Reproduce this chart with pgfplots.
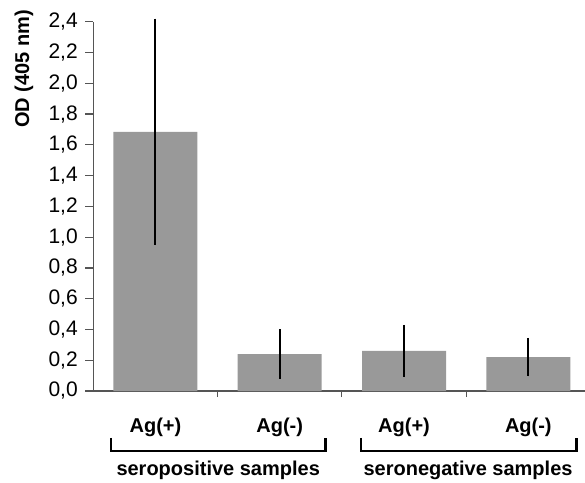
\documentclass[border=0pt]{standalone}
\usepackage{fontspec}
\setmainfont{Liberation Sans}
\usepackage{pgfplots}
\pgfplotsset{compat=1.18}
\definecolor{barfill}{HTML}{999999}
\definecolor{axisgray}{HTML}{555555}
\newcommand{\lblfont}{\fontsize{20}{24}\selectfont}
\newcommand{\numfont}{\fontsize{21}{25}\selectfont}

\begin{document}
\begin{tikzpicture}
\begin{axis}[
    at={(93.3pt,91pt)}, anchor=south west,
    scale only axis,
    width=491.7pt, height=369.3pt,
    xmin=-0.5, xmax=3.456,
    ymin=0, ymax=2.4,
    axis lines*=left,
    axis line style={draw=axisgray, line width=1.2pt},
    tick align=outside,
    ytick={0,0.2,...,2.41},
    major tick length=8pt,
    minor tick length=6pt,
    tick style={draw=axisgray, line width=1.2pt},
    major x tick style={draw=none},
    xtick={0,1,2,3},
    minor xtick={0.5,1.5,2.5},
    xticklabels={\textbf{Ag(+)},\textbf{Ag(-)},\textbf{Ag(+)},\textbf{Ag(-)}},
    xticklabel style={font=\lblfont, anchor=base, yshift=-33pt},
    yticklabel style={font=\numfont, xshift=-4pt},
    /pgf/number format/.cd, fixed, fixed zerofill, precision=1, use comma, assume math mode=true,
    /pgfplots/.cd,
    ylabel={\textbf{OD (405 nm)}},
    ylabel style={font=\lblfont, at={(axis description cs:-0.141,0.872)},
        anchor=center},
    clip=false,
    ybar, bar width=84pt,
]
\addplot[fill=barfill, draw=none,
    error bars/.cd, y dir=both, y explicit,
    error bar style={black, line width=2pt}, error mark=none]
    coordinates {
    (0,1.684) +- (0,0.736)
    (1,0.240) +- (0,0.160)
    (2,0.260) +- (0,0.170)
    (3,0.220) +- (0,0.125)
};
\draw[black, line width=2.5pt] (axis cs:-0.358,-0.305) -- (axis cs:-0.358,-0.390)
    -- (axis cs:1.370,-0.390) -- (axis cs:1.370,-0.305);
\draw[black, line width=2.5pt] (axis cs:1.654,-0.305) -- (axis cs:1.654,-0.390)
    -- (axis cs:3.389,-0.390) -- (axis cs:3.389,-0.305);
\node[font=\lblfont\bfseries] at (axis cs:0.505,-0.513) {seropositive samples};
\node[font=\lblfont\bfseries] at (axis cs:2.515,-0.513) {seronegative samples};
\end{axis}
\pgfresetboundingbox
\path[use as bounding box] (0,0) rectangle (585pt,482pt);
\end{tikzpicture}
\end{document}
